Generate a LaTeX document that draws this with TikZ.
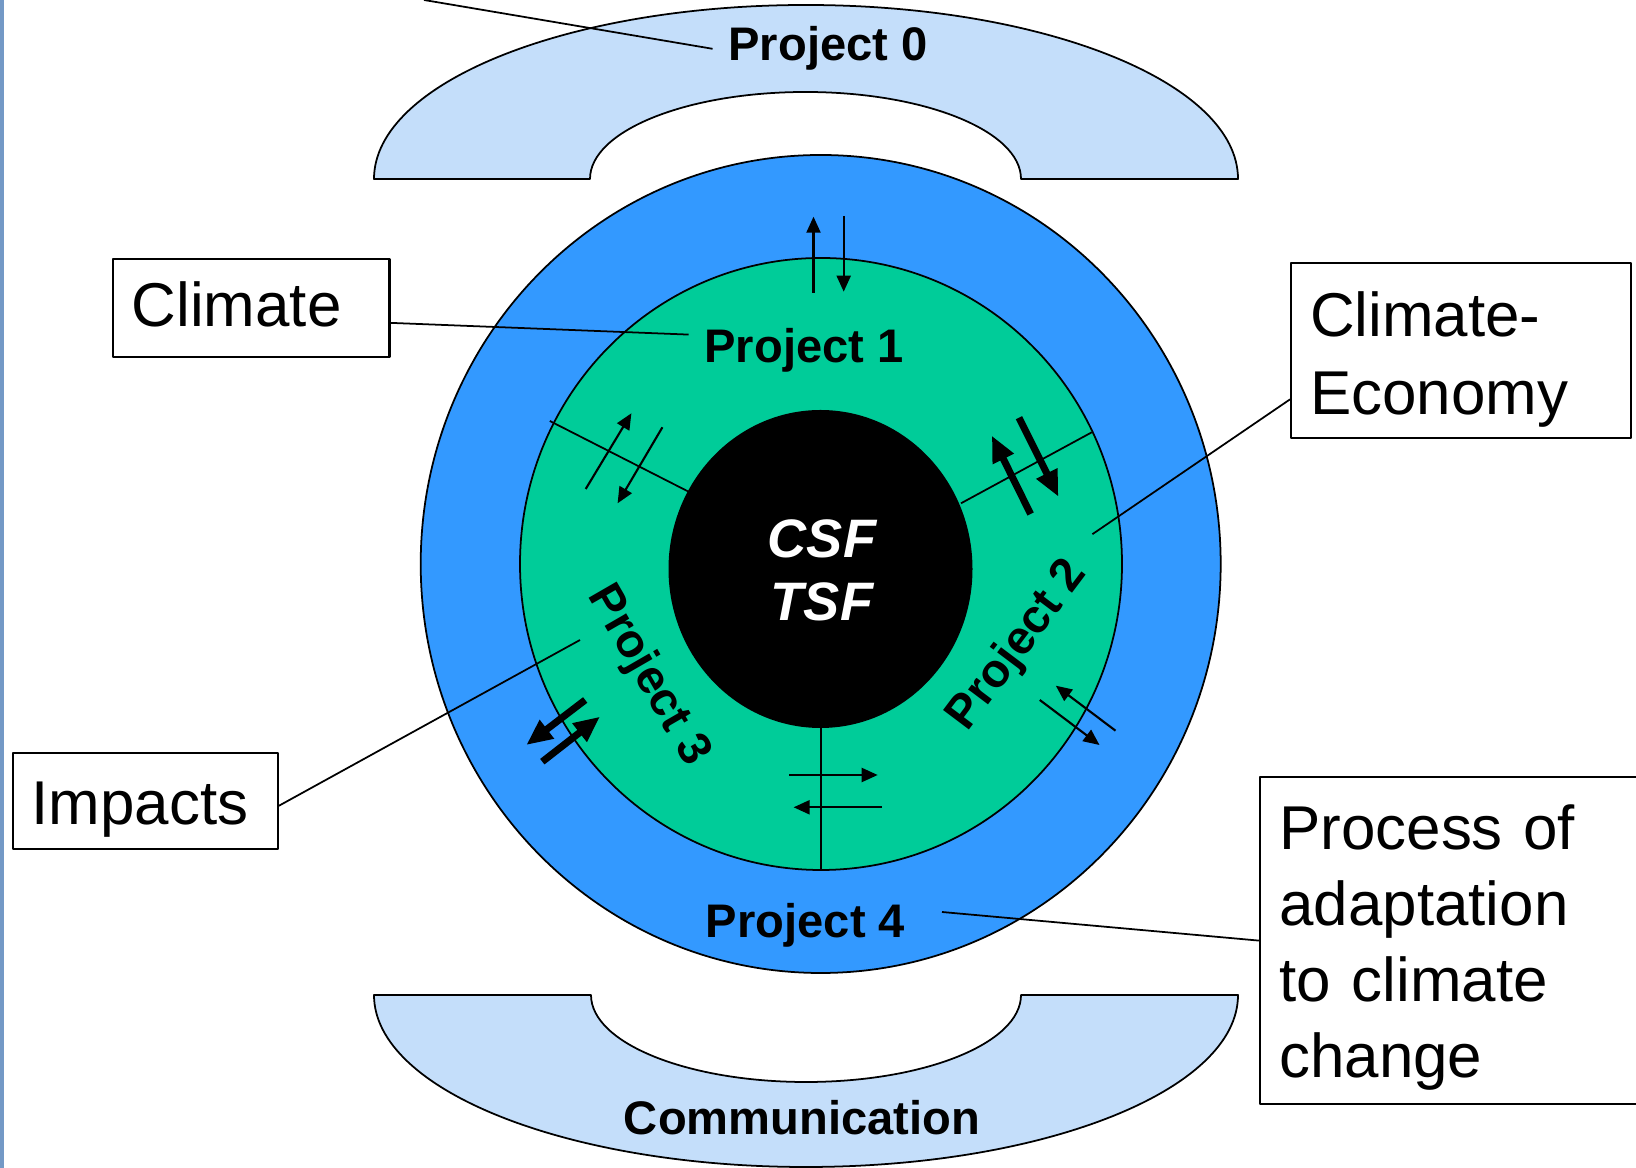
\documentclass[tikz,border=0pt]{standalone}
\usepackage{fontspec}
\setmainfont{Liberation Sans}
\usetikzlibrary{arrows.meta}
\definecolor{ringblue}{RGB}{51,153,255}
\definecolor{ringgreen}{RGB}{0,204,153}
\definecolor{archblue}{RGB}{196,222,250}
\definecolor{stripblue}{RGB}{115,153,198}
\begin{document}
\begin{tikzpicture}[x=0.01cm,y=-0.01cm,line join=round,line width=0.5pt,
 box/.style={draw,line width=0.6pt,anchor=north west,align=left,inner xsep=0.19cm,inner ysep=0pt,font=\fontsize{17.6}{22.2}\selectfont},
 lab/.style={inner sep=0.15cm,font=\fontsize{13.4}{16}\selectfont\bfseries},
 thinarr/.style={-{Triangle[length=0.16cm,width=0.14cm]},line width=0.6pt},
 thickarr/.style={-{Triangle[length=0.26cm,width=0.22cm]},line width=2pt}]
 \useasboundingbox (0,0) rectangle (1636,1168);
 \fill[stripblue] (0,0) rectangle (4,1168);
 % arches
 \draw[fill=archblue] (374,179) arc[start angle=180,end angle=360,x radius=432,y radius=174]
  -- (1021,179) arc[start angle=0,end angle=-180,x radius=215.5,y radius=87] -- cycle;
 \draw[fill=archblue] (374,995) arc[start angle=180,end angle=0,x radius=432,y radius=172]
  -- (1021,995) arc[start angle=0,end angle=180,x radius=215,y radius=87] -- cycle;
 % rings
 \draw[fill=ringblue] (820.7,564) ellipse[x radius=400,y radius=409];
 \draw[fill=ringgreen] (821,564) ellipse[x radius=301,y radius=306];
 \fill (820.5,569) ellipse[x radius=152,y radius=159];
 \draw (549.8,421)--(688.6,491.7) (961,503.3)--(1091.8,432.3) (821,728)--(821,870);
 % flows
 \foreach \xa/\ya/\xb/\yb in {813.5/292.7/813.5/216.7,843.7/216/843.7/291.7,585.7/489/631.4/413.3,662.4/427.3/617.6/503.3,
  789.3/775/877.7/775,882/807.3/793.6/807.3,1115.5/730.7/1055.8/685.7,1039.8/700/1099.5/745}
  \draw[thinarr](\xa,\ya)--(\xb,\yb);
 \foreach \xa/\ya/\xb/\yb in {1030.6/514/991.8/435.7,1019/417.7/1058.4/496.7,585.2/700/526.3/745,542.3/761.7/600/716.7}
  \draw[thickarr](\xa,\ya)--(\xb,\yb);
 \node[font=\fontsize{15.4}{18.1}\selectfont\bfseries\itshape,text=white,align=center] (core) at (822,570.5) {CSF\\TSF};
 \node[lab,anchor=base] (p0) at (828,61) {Project 0};
 \node[lab,anchor=base] (p1) at (804,363) {Project 1};
 \node[lab,rotate=53] (p2) at (1018,646) {Project 2};
 \node[lab,rotate=-60] (p3) at (648,676) {Project 3};
 \node[lab,anchor=base] (p4) at (805.5,938) {Project 4};
 \node[lab,anchor=base] (comm) at (802,1135) {Communication};
 % boxes
 \node[box,text width=2.386cm,minimum height=0.977cm,text height=0.45cm,text depth=0.094cm] (climate) at (111.7,258.3) {Climate};
 \node[box,text width=2.27cm,minimum height=0.966cm,text height=0.59cm,text depth=0.13cm] (impacts) at (11.7,751.7) {Impacts};
 \node[box,text width=3.02cm,minimum height=1.75cm] (econ) at (1290,261.7) {\rule{0pt}{0.63cm}Climate-\\Economy};
 \node[box,text width=3.427cm,minimum height=3.27cm,font=\fontsize{17.6}{21.6}\selectfont] (adapt) at (1259.3,776) {\rule{0pt}{0.58cm}Process of\\adaptation\\to climate\\change};
 \coordinate (p0 end) at (424,0);
 \coordinate (p2 end) at (1092.4,534.2);
 \coordinate (p3 end) at (580,640);
 \coordinate (p4 end) at (942,912);
 \draw (p0.west)--(p0 end);
 \draw (climate.-6.5)--(p1.172.8);
 \draw (econ.196.1)--(p2 end);
 \draw (impacts.-2.2)--(p3 end);
 \draw (adapt.west)--(p4 end);
\end{tikzpicture}
\end{document}
